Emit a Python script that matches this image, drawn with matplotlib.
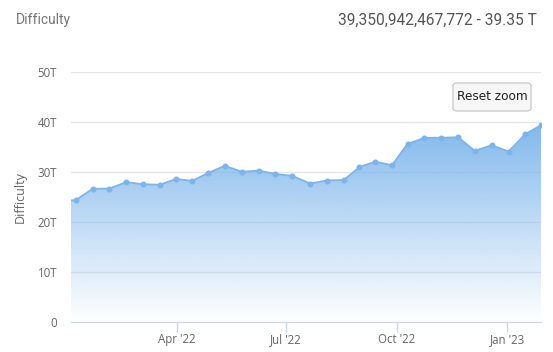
import matplotlib
matplotlib.use("Agg")
import matplotlib.pyplot as plt
import matplotlib.dates as mdates
import matplotlib.patches as patches
import numpy as np
import pandas as pd

# difficulty adjustments (trillions)
dates = pd.to_datetime([
    "2021-12-24", "2022-01-07", "2022-01-21", "2022-02-04", "2022-02-18",
    "2022-03-04", "2022-03-18", "2022-03-31", "2022-04-14", "2022-04-27",
    "2022-05-11", "2022-05-25", "2022-06-08", "2022-06-22", "2022-07-06",
    "2022-07-21", "2022-08-04", "2022-08-18", "2022-08-31", "2022-09-13",
    "2022-09-27", "2022-10-10", "2022-10-24", "2022-11-07", "2022-11-21",
    "2022-12-05", "2022-12-19", "2023-01-02", "2023-01-16", "2023-01-29",
])
difficulty = [
    24.27, 24.37, 26.64, 26.69, 27.97,
    27.55, 27.45, 28.59, 28.23, 29.79,
    31.25, 30.04, 30.28, 29.60, 29.23,
    27.69, 28.30, 28.40, 30.98, 32.05,
    31.36, 35.61, 36.84, 36.85, 36.95,
    34.24, 35.36, 34.09, 37.59, 39.35,
]
y_ticks = [0, 10, 20, 30, 40, 50]
x_ticks = pd.to_datetime(["2022-04-01", "2022-07-01", "2022-10-01", "2023-01-01"])

blue = "#7cb5ec"
label_color = "#666666"

fig = plt.figure(figsize=(5.53, 3.52), dpi=100)
ax = fig.add_axes([71 / 553, 30 / 352, 470 / 553, 250 / 352])

x = mdates.date2num(dates)
x_min = mdates.date2num(pd.Timestamp("2022-01-03"))
x_max = x[-1]

# gradient area fill
poly = ax.fill_between(x, difficulty, 0, facecolor="none", edgecolor="none")
grad = np.linspace(1, 0, 256).reshape(-1, 1)
rgba = np.zeros((256, 1, 4))
rgba[..., :3] = matplotlib.colors.to_rgb(blue)
rgba[..., 3] = grad * 0.95
img = ax.imshow(rgba, extent=[x[0], x_max, 0, max(difficulty)], aspect="auto",
                origin="upper", zorder=1, interpolation="bilinear")
img.set_clip_path(poly.get_paths()[0], transform=ax.transData)

ax.plot(x, difficulty, color=blue, lw=1.3, zorder=3, marker="o", ms=3.3,
        mec=blue, mfc=blue, clip_on=True)

ax.set_xlim(x_min, x_max)
ax.set_ylim(0, 50)

ax.set_yticks(y_ticks)
ax.set_yticklabels(["0" if t == 0 else f"{t}T" for t in y_ticks])
ax.yaxis.grid(True, color="#e6e6e6", lw=1, zorder=0)
ax.set_axisbelow(True)
ax.tick_params(axis="y", length=0, pad=10, labelcolor=label_color, labelsize=8.3)

ax.set_xticks(mdates.date2num(x_ticks))
ax.set_xticklabels([d.strftime("%b '%y") for d in x_ticks])
ax.tick_params(axis="x", length=7.2, width=1, color="#ccd6eb", pad=1,
               labelcolor=label_color, labelsize=8.3)

for side in ["top", "right", "left"]:
    ax.spines[side].set_visible(False)
ax.spines["bottom"].set_color("#ccd6eb")
ax.spines["bottom"].set_zorder(4)

for lbl in ax.get_xticklabels() + ax.get_yticklabels():
    lbl.set_family("Open Sans")

ax.set_ylabel("Difficulty", color=label_color, fontsize=9, family="Open Sans", labelpad=8)

# header
fig.text(16 / 553, 1 - 20 / 352, "Difficulty", color="#777777", fontsize=10,
         family="Roboto", va="center", ha="left")
fig.text(537 / 553, 1 - 20 / 352, "39,350,942,467,772 - 39.35 T", color="#555555",
         fontsize=11.2, family="Roboto", va="center", ha="right")

# reset zoom button
btn = patches.FancyBboxPatch((453 / 553, 1 - 111 / 352), 78 / 553, 28 / 352,
                             boxstyle="round,pad=0,rounding_size=0.008",
                             transform=fig.transFigure, facecolor="#f7f7f7",
                             edgecolor="#cccccc", lw=1, zorder=5)
fig.patches.append(btn)
fig.text(492 / 553, 1 - 96 / 352, "Reset zoom", color="#222222", fontsize=8.7,
         family="DejaVu Sans", ha="center", va="center", zorder=6)

fig.savefig("out.png", dpi=100)
